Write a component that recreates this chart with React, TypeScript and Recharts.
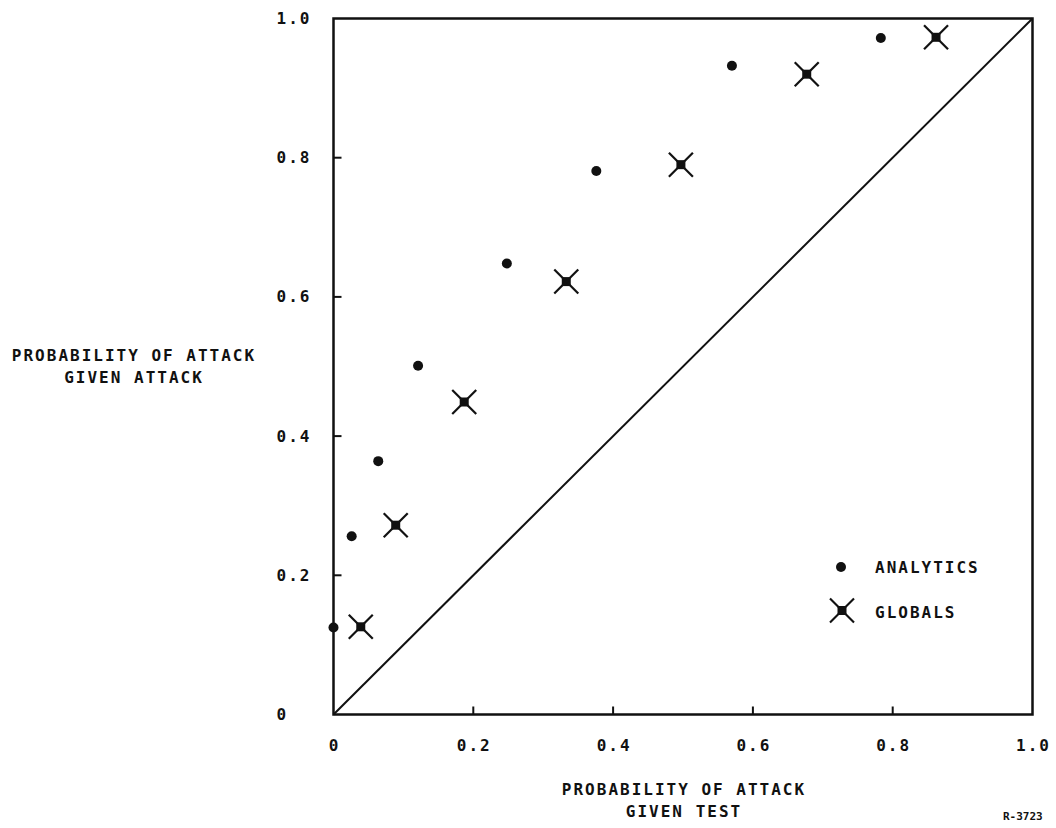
import React from 'react';
import { ScatterChart, Scatter, XAxis, YAxis, ReferenceLine, ReferenceArea, Legend } from 'recharts';

const analyticsX = [0, 0.026, 0.064, 0.121, 0.248, 0.376, 0.57, 0.783];
const analyticsY = [0.125, 0.256, 0.364, 0.501, 0.648, 0.781, 0.932, 0.972];
const globalsX = [0.039, 0.089, 0.187, 0.333, 0.497, 0.677, 0.862];
const globalsY = [0.126, 0.272, 0.449, 0.622, 0.79, 0.92, 0.973];
const tickValues = [0, 0.2, 0.4, 0.6, 0.8, 1.0];
const tickLabels = ['0', '0.2', '0.4', '0.6', '0.8', '1.0'];
const seriesNames = ['ANALYTICS', 'GLOBALS'];
const xTitle = ['PROBABILITY OF ATTACK', 'GIVEN TEST'];
const yTitle = ['PROBABILITY OF ATTACK', 'GIVEN ATTACK'];
const figId = 'R-3723';

const analytics = analyticsX.map((x, i) => ({ x, y: analyticsY[i] }));
const globals = globalsX.map((x, i) => ({ x, y: globalsY[i] }));

const FONT = '"DejaVu Sans Mono", monospace';
const INK = '#111';

const labelFor = (v: number) => tickLabels[tickValues.indexOf(v)] ?? String(v);

const DotShape = (p: any) => <circle cx={p.cx} cy={p.cy} r={5} fill={INK} />;
const CrossShape = (p: any) => {
  const { cx, cy } = p;
  return (
    <g>
      <rect x={cx - 4.5} y={cy - 4.5} width={9} height={9} fill={INK} />
      <line x1={cx - 12} y1={cy - 12} x2={cx + 12} y2={cy + 12} stroke={INK} strokeWidth={2.2} />
      <line x1={cx - 12} y1={cy + 12} x2={cx + 12} y2={cy - 12} stroke={INK} strokeWidth={2.2} />
    </g>
  );
};

const XTick = (p: any) => {
  const { x, y, payload } = p;
  const v = payload.value;
  const inner = v > 0 && v < 1;
  return (
    <g>
      {inner && <line x1={x} y1={y} x2={x} y2={y - 8} stroke={INK} strokeWidth={2} />}
      <text x={x + 1} y={y + 31} textAnchor="middle" dominantBaseline="central" fontFamily={FONT} fontWeight="bold" fontSize={16} letterSpacing={2} fill={INK}>
        {labelFor(v)}
      </text>
    </g>
  );
};

const YTick = (p: any) => {
  const { x, y, payload } = p;
  const v = payload.value;
  const inner = v > 0 && v < 1;
  return (
    <g>
      {inner && <line x1={x} y1={y} x2={x + 8} y2={y} stroke={INK} strokeWidth={2} />}
      <text x={x - 57} y={y} textAnchor="start" dominantBaseline="central" fontFamily={FONT} fontWeight="bold" fontSize={16} letterSpacing={2} fill={INK}>
        {labelFor(v)}
      </text>
    </g>
  );
};

const LegendContent = () => (
  <svg width={200} height={90}>
    <circle cx={21} cy={22} r={5} fill={INK} />
    <g>
      <rect x={17.5} y={61} width={9} height={9} fill={INK} />
      <line x1={10} y1={53.5} x2={34} y2={77.5} stroke={INK} strokeWidth={2.2} />
      <line x1={10} y1={77.5} x2={34} y2={53.5} stroke={INK} strokeWidth={2.2} />
    </g>
    <text x={55} y={22} dominantBaseline="central" fontFamily={FONT} fontWeight="bold" fontSize={16} letterSpacing={2} fill={INK}>{seriesNames[0]}</text>
    <text x={55} y={67} dominantBaseline="central" fontFamily={FONT} fontWeight="bold" fontSize={16} letterSpacing={2} fill={INK}>{seriesNames[1]}</text>
  </svg>
);

const textStyle: React.CSSProperties = {
  position: 'absolute',
  fontFamily: FONT,
  fontWeight: 'bold',
  fontSize: 16,
  letterSpacing: 2,
  color: INK,
  whiteSpace: 'pre',
  textAlign: 'center',
  lineHeight: '22px',
};

export default function App() {
  return (
    <div style={{ position: 'absolute', left: 0, top: 0, width: 1056, height: 828, background: '#fff', overflow: 'hidden' }}>
      <ScatterChart width={1056} height={828} margin={{ top: 18.5, right: 23.5, bottom: 83.5, left: 273.5 }}>
        <XAxis type="number" dataKey="x" domain={[0, 1]} ticks={tickValues} axisLine={false} tickLine={false} tickSize={0} tickMargin={0} height={30} tick={<XTick />} interval={0} />
        <YAxis type="number" dataKey="y" domain={[0, 1]} ticks={tickValues} axisLine={false} tickLine={false} tickSize={0} tickMargin={0} width={60} tick={<YTick />} interval={0} />
        <ReferenceArea x1={0} x2={1} y1={0} y2={1} fill="none" stroke={INK} strokeWidth={2.5} />
        <ReferenceLine segment={[{ x: 0, y: 0 }, { x: 1, y: 1 }]} stroke={INK} strokeWidth={2} />
        <Scatter name={seriesNames[0]} data={analytics} shape={<DotShape />} isAnimationActive={false} />
        <Scatter name={seriesNames[1]} data={globals} shape={<CrossShape />} isAnimationActive={false} />
        <Legend layout="vertical" align="center" verticalAlign="middle" content={<LegendContent />} wrapperStyle={{ position: 'absolute', left: 820, top: 545, width: 200, height: 90 }} />
      </ScatterChart>
      <div style={{ ...textStyle, left: 0, top: 345, width: 268 }}>{yTitle.join('\n')}</div>
      <div style={{ ...textStyle, left: 534, top: 779, width: 300 }}>{xTitle.join('\n')}</div>
      <div style={{ position: 'absolute', left: 1003, top: 810, fontFamily: FONT, fontSize: 11, fontWeight: 'bold', color: INK }}>{figId}</div>
    </div>
  );
}
